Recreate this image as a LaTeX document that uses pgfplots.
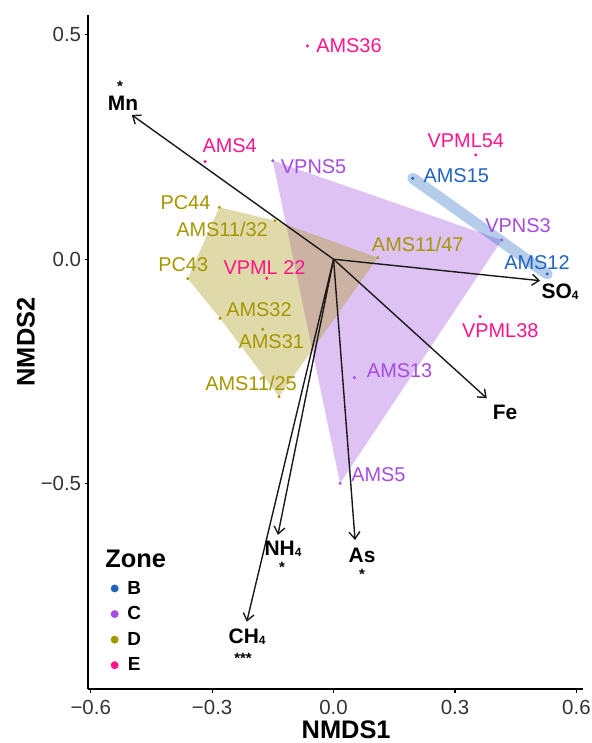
\documentclass[border=0pt]{standalone}
\usepackage{pgfplots}
\pgfplotsset{compat=1.18}
\usepackage{fontspec}
\setmainfont{Liberation Sans}
\usetikzlibrary{arrows.meta}
\definecolor{cB}{RGB}{30,100,190}
\definecolor{cC}{RGB}{165,75,225}
\definecolor{cD}{RGB}{165,150,0}
\definecolor{cE}{RGB}{255,20,140}
\definecolor{fB}{RGB}{60,120,200}
\definecolor{fC}{RGB}{160,80,220}
\definecolor{fD}{RGB}{170,150,20}
\newcommand\fs[1]{\fontsize{#1}{#1}\selectfont}
\newcommand\subf[1]{\raisebox{-1bp}{\fs{12}#1}}
\begin{document}
\begin{tikzpicture}
\useasboundingbox (0,0) rectangle (592bp,743bp);
\begin{axis}[
  at={(88.3bp,53.7bp)}, anchor=south west,
  width=495bp, height=674.3bp, scale only axis,
  xmin=-0.606, xmax=0.617, ymin=-0.9577, ymax=0.544,
  axis x line*=bottom, axis y line*=left,
  axis line style={line width=2.2bp, -},
  xtick={-0.6,-0.3,0,0.3,0.6},
  xticklabels={−0.6,−0.3,0.0,0.3,0.6},
  ytick={-0.5,0,0.5},
  yticklabels={−0.5,0.0,0.5},
  tick align=outside, major tick length=3.5bp,
  tick style={line width=1.1bp, black},
  ticklabel style={font=\fs{20.5}, text=black!80, inner sep=0pt},
  xticklabel style={yshift=-7bp},
  yticklabel style={xshift=-3.5bp},
  clip=false,
  legend style={at={(axis cs:-0.5510,-0.7165)}, anchor=north west, draw=none, fill=none,
    font=\fs{19}\bfseries, row sep=11bp, inner sep=0pt,
    nodes={inner sep=0pt}},
  legend image code/.code={\fill (0bp,0bp) circle (3.7bp); \path[draw=none,fill=none] (-3.5bp,-3.5bp) rectangle (12.7bp,3.5bp);},
]
% hulls
\addplot[draw=none, fill=fC, fill opacity=0.35, forget plot]
  coordinates {(-0.1502,0.2196) (0.4156,0.0430) (0.0161,-0.4989)} -- cycle;
\addplot[draw=none, fill=fD, fill opacity=0.36, forget plot]
  coordinates {(-0.2822,0.1158) (-0.1446,0.0860) (0.1092,0.0036) (-0.1347,-0.3060) (-0.2805,-0.1314) (-0.3603,-0.0432)} -- cycle;
\addplot[draw=fB, line width=11bp, line cap=round, opacity=0.38, forget plot]
  coordinates {(0.1957,0.1804) (0.5276,-0.0327)};
% arrows
\pgfplotsset{arr/.style={black!90, line width=1.4bp, -{Straight Barb[length=7bp,width=11bp]}, forget plot}}
\addplot[arr] coordinates {(0,0) (-0.4986,0.3214)};
\addplot[arr] coordinates {(0,0) (0.5103,-0.0477)};
\addplot[arr] coordinates {(0,0) (0.3786,-0.3096)};
\addplot[arr] coordinates {(0,0) (0.0531,-0.6252)};
\addplot[arr] coordinates {(0,0) (-0.1376,-0.6140)};
\addplot[arr] coordinates {(0,0) (-0.2145,-0.8071)};
% points
\addplot[only marks, mark=*, mark size=1.3bp, color=cB, forget plot]
  coordinates {(0.1957,0.1804) (0.5276,-0.0327)};
\addplot[only marks, mark=*, mark size=1.3bp, color=cC, forget plot]
  coordinates {(-0.1502,0.2196) (0.4156,0.0430) (0.0514,-0.2637) (0.0161,-0.4989)};
\addplot[only marks, mark=*, mark size=1.3bp, color=cD, forget plot]
  coordinates {(-0.2822,0.1158) (-0.1446,0.0860) (-0.3603,-0.0432) (-0.2805,-0.1314) (-0.1749,-0.1559) (-0.1347,-0.3060) (0.1092,0.0036)};
\addplot[only marks, mark=*, mark size=1.3bp, color=cE, forget plot]
  coordinates {(-0.0647,0.4751) (-0.3175,0.2174) (0.3514,0.2323) (-0.1651,-0.0423) (0.3620,-0.1274)};
% point labels
\begin{scope}[every node/.style={inner sep=0pt, font=\fs{20}}]
\node[anchor=west, text=cE] at (axis cs:-0.0432,0.4751) {AMS36};
\node[anchor=west, text=cE] at (axis cs:-0.3242,0.2523) {AMS4};
\node[anchor=west, text=cC] at (axis cs:-0.1305,0.2067) {VPNS5};
\node[anchor=east, text=cD] at (axis cs:-0.3039,0.1254) {PC44};
\node[anchor=west, text=cD] at (axis cs:-0.3892,0.0668) {AMS11/32};
\node[anchor=east, text=cD] at (axis cs:-0.3094,-0.0111) {PC43};
\node[anchor=west, text=cE] at (axis cs:-0.2723,-0.0178) {VPML 22};
\node[anchor=west, text=cD] at (axis cs:-0.2656,-0.1114) {AMS32};
\node[anchor=west, text=cD] at (axis cs:-0.2352,-0.1835) {AMS31};
\node[anchor=west, text=cD] at (axis cs:-0.3175,-0.2755) {AMS11/25};
\node[anchor=west, text=cE] at (axis cs:0.2318,0.2635) {VPML54};
\node[anchor=west, text=cB] at (axis cs:0.2219,0.1862) {AMS15};
\node[anchor=west, text=cC] at (axis cs:0.3744,0.0742) {VPNS3};
\node[anchor=west, text=cD] at (axis cs:0.0944,0.0334) {AMS11/47};
\node[anchor=west, text=cB] at (axis cs:0.4213,-0.0076) {AMS12};
\node[anchor=west, text=cE] at (axis cs:0.3168,-0.1597) {VPML38};
\node[anchor=west, text=cC] at (axis cs:0.0820,-0.2488) {AMS13};
\node[anchor=west, text=cC] at (axis cs:0.0432,-0.4804) {AMS5};
\end{scope}
% variable labels
\begin{scope}[every node/.style={inner sep=0pt, font=\fs{21}\bfseries}]
\node at (axis cs:-0.5201,0.3481) {Mn};
\node at (axis cs:0.5597,-0.0728) {SO\subf{4}};
\node at (axis cs:0.4238,-0.3401) {Fe};
\node at (axis cs:-0.1248,-0.6452) {NH\subf{4}};
\node at (axis cs:0.0704,-0.6586) {As};
\node at (axis cs:-0.2137,-0.8412) {CH\subf{4}};
\end{scope}
\begin{scope}[every node/.style={inner sep=0pt, anchor=base, font=\fs{15}\bfseries}]
\node at (axis cs:-0.5276,0.3725) {*};
\node at (axis cs:-0.1273,-0.6986) {*};
\node at (axis cs:0.0704,-0.7142) {*};
\node at (axis cs:-0.2236,-0.9012) {***};
\end{scope}
% axis titles
\node[font=\fs{25.5}\bfseries, inner sep=0pt] at (axis cs:0.031,-1.047) {NMDS1};
\node[font=\fs{25.5}\bfseries, inner sep=0pt, rotate=90] at (axis cs:-0.760,-0.184) {NMDS2};
% legend
\node[font=\fs{25.5}\bfseries, inner sep=0pt, anchor=west] at (axis cs:-0.5646,-0.6675) {Zone};
\addlegendimage{color=cB}\addlegendentry{B}
\addlegendimage{color=cC}\addlegendentry{C}
\addlegendimage{color=cD}\addlegendentry{D}
\addlegendimage{color=cE}\addlegendentry{E}
\end{axis}
\end{tikzpicture}
\end{document}
